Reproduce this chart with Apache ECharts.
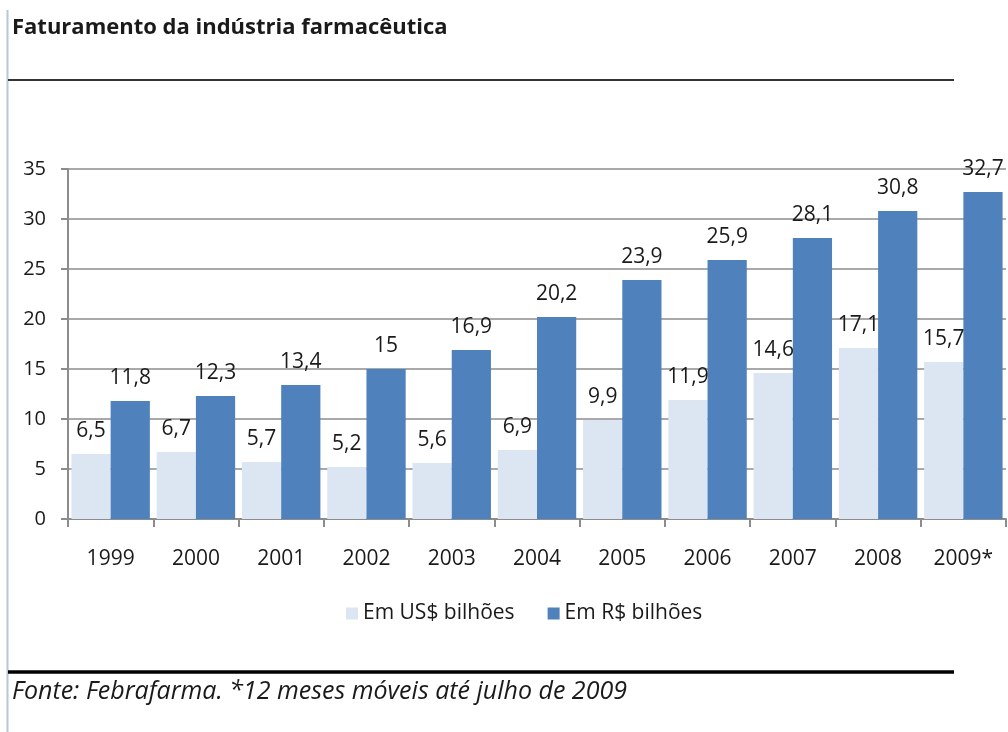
<!DOCTYPE html>
<html>
<head>
<meta charset="utf-8">
<script src="https://cdn.jsdelivr.net/npm/echarts@6/dist/echarts.min.js"></script>
<style>
html,body{margin:0;padding:0;background:#fff;}
#chart{width:1008px;height:732px;}
</style>
</head>
<body>
<div id="chart"></div>
<script>
const categories = ['1999','2000','2001','2002','2003','2004','2005','2006','2007','2008','2009*'];
const usdValues = [6.5, 6.7, 5.7, 5.2, 5.6, 6.9, 9.9, 11.9, 14.6, 17.1, 15.7];
const brlValues = [11.8, 12.3, 13.4, 15, 16.9, 20.2, 23.9, 25.9, 28.1, 30.8, 32.7];
const seriesNames = ['Em US$ bilhões', 'Em R$ bilhões'];
const titleText = 'Faturamento da indústria farmacêutica';
const sourceText = 'Fonte: Febrafarma. *12 meses móveis até julho de 2009';

const FONT = '"Open Sans", sans-serif';
const TXT = '#1a1a1a';
const fmt = p => String(p.value).replace('.', ',');

const chart = echarts.init(document.getElementById('chart'));
chart.setOption({
  animation: false,
  backgroundColor: '#fff',
  textStyle: { fontFamily: FONT, color: TXT },
  grid: { left: 68, right: 2, top: 169, bottom: 213, containLabel: false },
  legend: {
    data: seriesNames,
    top: 598,
    left: 341,
    itemWidth: 12,
    itemHeight: 12,
    itemGap: 33,
    icon: 'rect',
    textStyle: { fontFamily: FONT, fontSize: 21, color: TXT }
  },
  xAxis: {
    type: 'category',
    data: categories,
    axisLine: { lineStyle: { color: '#8c8c8c', width: 2 } },
    axisTick: { show: true, length: 8, alignWithLabel: false, lineStyle: { color: '#8c8c8c', width: 2 } },
    axisLabel: { margin: 30, fontFamily: FONT, fontSize: 21, color: TXT }
  },
  yAxis: {
    type: 'value',
    min: 0,
    max: 35,
    interval: 5,
    axisLine: { show: true, lineStyle: { color: '#8c8c8c', width: 2 } },
    axisTick: { show: true, length: 7, lineStyle: { color: '#8c8c8c', width: 2 } },
    splitLine: { show: true, lineStyle: { color: '#8c8c8c', width: 1.5 } },
    axisLabel: { margin: 22, fontFamily: FONT, fontSize: 20, color: TXT }
  },
  series: [
    {
      name: seriesNames[0],
      type: 'bar',
      data: usdValues,
      barGap: '0%',
      barCategoryGap: '8%',
      itemStyle: { color: '#dce6f2' },
      label: { show: true, position: 'top', distance: 12, formatter: fmt, fontFamily: FONT, fontSize: 21, color: TXT }
    },
    {
      name: seriesNames[1],
      type: 'bar',
      data: brlValues,
      barGap: '0%',
      barCategoryGap: '8%',
      itemStyle: { color: '#4f81bd' },
      label: { show: true, position: 'top', distance: 12, formatter: fmt, fontFamily: FONT, fontSize: 21, color: TXT }
    }
  ],
  graphic: [
    { type: 'line', shape: { x1: 7.5, y1: 10, x2: 7.5, y2: 732 }, style: { stroke: '#b9c6d8', lineWidth: 2 } },
    { type: 'text', left: 12, top: 17, style: { text: titleText, font: 'bold 22px ' + FONT, fill: TXT } },
    { type: 'line', shape: { x1: 8, y1: 80, x2: 954, y2: 80 }, style: { stroke: '#333', lineWidth: 2 } },
    { type: 'line', shape: { x1: 8, y1: 672, x2: 954, y2: 672 }, style: { stroke: '#000', lineWidth: 3.5 } },
    { type: 'text', left: 12, top: 679, style: { text: sourceText, font: 'italic 25px ' + FONT, fill: TXT } }
  ]
});
</script>
</body>
</html>
